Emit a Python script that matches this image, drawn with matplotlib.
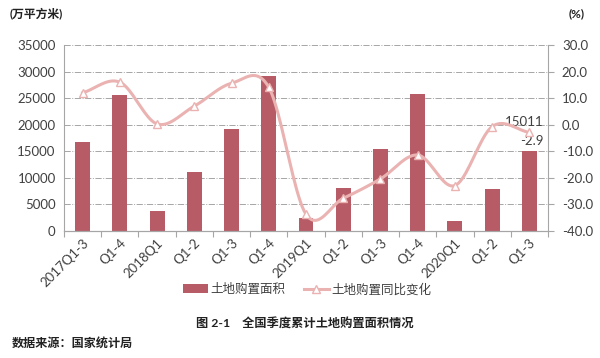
import matplotlib
matplotlib.use("Agg")
import matplotlib.pyplot as plt
from matplotlib.lines import Line2D
from matplotlib.patches import Patch
import numpy as np

plt.rcParams['font.family'] = ['Lato', 'Noto Sans CJK SC', 'DejaVu Sans']

# data
quarters = ["2017Q1-3", "Q1-4", "2018Q1", "Q1-2", "Q1-3", "Q1-4", "2019Q1",
            "Q1-2", "Q1-3", "Q1-4", "2020Q1", "Q1-2", "Q1-3"]
land_area = [16700, 25508, 3760, 11040, 19250, 29142, 2500,
             8030, 15370, 25822, 1940, 7900, 15011]
yoy_change = [12.0, 16.0, 0.3, 7.0, 15.6, 14.1, -33.7,
              -27.7, -20.4, -11.4, -22.9, -0.7, -2.9]

bar_color = '#B75C66'
line_color = '#EBB2B2'
text_color = '#404040'


def smooth_curve(x, y, steps=20):
    """Catmull-Rom style smoothing like the Excel smoothed line"""
    x = np.asarray(x, float)
    y = np.asarray(y, float)
    px = np.concatenate([[2 * x[0] - x[1]], x, [2 * x[-1] - x[-2]]])
    py = np.concatenate([[2 * y[0] - y[1]], y, [2 * y[-1] - y[-2]]])
    xs, ys = [], []
    t = np.linspace(0, 1, steps, endpoint=False)
    for i in range(1, len(px) - 2):
        p0, p1, p2, p3 = px[i - 1:i + 3]
        q0, q1, q2, q3 = py[i - 1:i + 3]
        for arr, a0, a1, a2, a3 in ((xs, p0, p1, p2, p3), (ys, q0, q1, q2, q3)):
            arr.extend(0.5 * ((2 * a1) + (-a0 + a2) * t
                              + (2 * a0 - 5 * a1 + 4 * a2 - a3) * t ** 2
                              + (-a0 + 3 * a1 - 3 * a2 + a3) * t ** 3))
    xs.append(x[-1])
    ys.append(y[-1])
    return np.array(xs), np.array(ys)


fig = plt.figure(figsize=(6.0, 3.58), dpi=100)
ax = fig.add_axes([64 / 600, 1 - 231 / 358, (548 - 64) / 600, 186 / 358])
ax2 = ax.twinx()

x = np.arange(len(quarters))
ax.bar(x, land_area, width=0.4, color=bar_color, zorder=2)
ax.set_xlim(-0.5, len(quarters) - 0.5)
ax.set_ylim(0, 35000)
ax.set_yticks(range(0, 35001, 5000))
ax.grid(axis='y', color='#A6A6A6', linestyle='-.', linewidth=0.7, zorder=0)
ax.set_axisbelow(True)

sx, sy = smooth_curve(x, yoy_change)
ax2.plot(sx, sy, color=line_color, linewidth=2.2, zorder=3)
ax2.plot(x, yoy_change, linestyle='none', marker='^', markersize=6,
         markerfacecolor='white', markeredgecolor=line_color,
         markeredgewidth=1.0, zorder=4)
ax2.set_ylim(-40, 30)
ax2.set_yticks(range(-40, 31, 10))
ax2.set_yticklabels([f'{v:.1f}' for v in range(-40, 31, 10)])

# axis styling
for a in (ax, ax2):
    a.spines['top'].set_visible(False)
    a.spines['left'].set_color('#A6A6A6')
    a.spines['right'].set_color('#A6A6A6')
    a.spines['bottom'].set_color('#A6A6A6')
ax.spines['right'].set_visible(False)
ax2.spines['left'].set_visible(False)

ax.tick_params(axis='y', length=0, labelsize=9.5, pad=6, colors=text_color)
ax2.tick_params(axis='y', length=4, direction='out', color='#A6A6A6',
                labelsize=9.5, pad=6, labelcolor=text_color)
ax.set_xticks(np.arange(-0.5, len(quarters), 1), minor=False)
ax.set_xticklabels([])
ax.set_xticks(x, minor=True)
ax.set_xticklabels(quarters, minor=True, rotation=45, ha='right',
                   rotation_mode='anchor', fontsize=9.5, color=text_color)
ax.tick_params(axis='x', which='major', length=4, color='#A6A6A6')
ax.tick_params(axis='x', which='minor', length=0, pad=4)

# value labels on last point
ax.annotate(f'{land_area[-1]}', (x[-1] + 0.38, land_area[-1]),
            xytext=(0, 21), textcoords='offset points',
            ha='right', va='center', fontsize=9.5, color=text_color)
ax2.annotate(f'{yoy_change[-1]}', (x[-1] + 0.38, yoy_change[-1]),
             xytext=(0, -6.5), textcoords='offset points',
             ha='right', va='center', fontsize=9.5, color=text_color)

# units
fig.text(10 / 600, 1 - 14 / 358, '(万平方米)', fontsize=8.5, fontweight='bold',
         va='center', ha='left', color='#222222')
fig.text(585 / 600, 1 - 14 / 358, '(%)', fontsize=8.5, fontweight='bold',
         va='center', ha='right', color='#222222')

# legend
handles = [Patch(facecolor=bar_color, edgecolor='none'),
           Line2D([0], [0], color=line_color, linewidth=2.2, marker='^',
                  markersize=6, markerfacecolor='white',
                  markeredgecolor=line_color)]
fig.legend(handles, ['土地购置面积', '土地购置同比变化'], loc='center',
           bbox_to_anchor=(307 / 600, 1 - 289 / 358), ncol=2, frameon=False,
           fontsize=9, handlelength=2.0, handletextpad=0.2, columnspacing=1.5,
           labelcolor=text_color)

fig.text(305 / 600, 1 - 323 / 358, '图 2-1    全国季度累计土地购置面积情况',
         fontsize=8.8, fontweight='bold', ha='center', va='center',
         color='#222222')
fig.text(12 / 600, 1 - 343 / 358, '数据来源：国家统计局', fontsize=8.7,
         fontweight='bold', ha='left', va='center', color='#222222')

fig.savefig('out.png', dpi=100, facecolor='white')
